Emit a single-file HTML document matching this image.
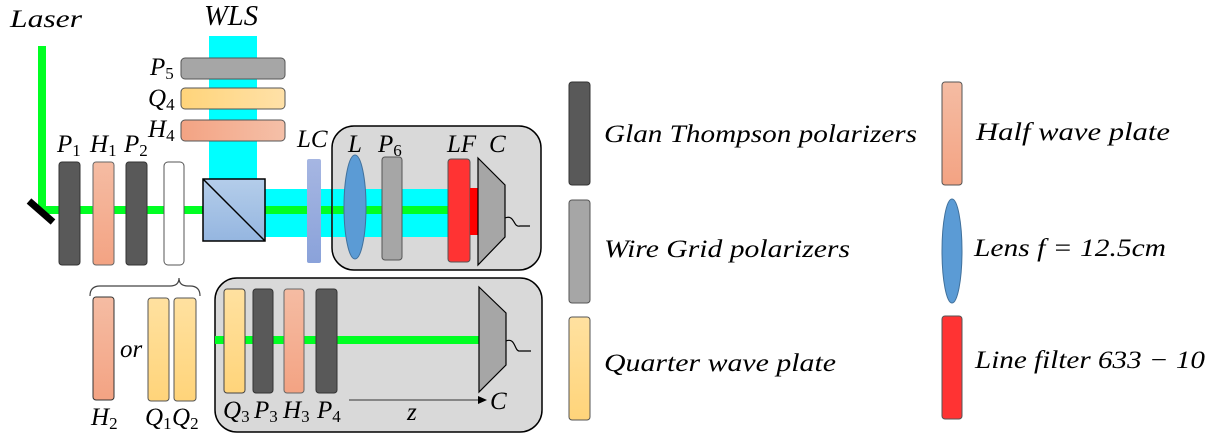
<!DOCTYPE html>
<html><head><meta charset="utf-8"><style>
html,body{margin:0;padding:0;background:#fff;}
svg{display:block;}
text{font-family:"Liberation Serif","DejaVu Serif",serif;font-style:italic;fill:#000;}
.s{font-size:17px;font-style:normal;}
</style></head><body>
<svg width="1219" height="439" viewBox="0 0 1219 439" xmlns="http://www.w3.org/2000/svg" font-family="Liberation Serif, serif">
<defs>
<linearGradient id="sal" x1="0" y1="0" x2="0" y2="1"><stop offset="0" stop-color="#f5bca3"/><stop offset="1" stop-color="#f3a383"/></linearGradient>
<linearGradient id="salh" x1="0" y1="0" x2="1" y2="0"><stop offset="0" stop-color="#f3a383"/><stop offset="1" stop-color="#f5c0a8"/></linearGradient>
<linearGradient id="yel" x1="0" y1="0" x2="0" y2="1"><stop offset="0" stop-color="#ffe1a0"/><stop offset="1" stop-color="#ffd47a"/></linearGradient>
<linearGradient id="yelh" x1="0" y1="0" x2="1" y2="0"><stop offset="0" stop-color="#ffd47a"/><stop offset="1" stop-color="#ffe1a8"/></linearGradient>
<linearGradient id="cube" x1="0" y1="0" x2="0" y2="1"><stop offset="0" stop-color="#b4cdea"/><stop offset="1" stop-color="#95b6e0"/></linearGradient>
<linearGradient id="lc" x1="0" y1="0" x2="0" y2="1"><stop offset="0" stop-color="#a6b6e2"/><stop offset="1" stop-color="#8aa2da"/></linearGradient>
</defs>

<text x="10" y="27" font-size="25" textLength="72" lengthAdjust="spacingAndGlyphs">Laser</text>
<rect x="38" y="46" width="8" height="167" fill="#00ff22"/>
<rect x="40" y="206" width="165" height="8" fill="#00ff22"/>
<line x1="29" y1="201" x2="53" y2="222" stroke="#000" stroke-width="7"/>

<text x="204" y="25" font-size="28" textLength="54" lengthAdjust="spacingAndGlyphs">WLS</text>
<rect x="209" y="36" width="48" height="144" fill="#00ffff"/>
<rect x="181" y="58" width="104" height="21" rx="4" fill="#a6a6a6" stroke="#555" stroke-width="1"/>
<rect x="181" y="88" width="104" height="21" rx="4" fill="url(#yelh)" stroke="#555" stroke-width="1"/>
<rect x="181" y="120" width="104" height="21" rx="4" fill="url(#salh)" stroke="#555" stroke-width="1"/>
<text x="150" y="75" font-size="25">P<tspan class="s" dy="4">5</tspan></text>
<text x="148" y="106" font-size="25">Q<tspan class="s" dy="4">4</tspan></text>
<text x="148" y="137" font-size="25">H<tspan class="s" dy="4">4</tspan></text>

<rect x="59" y="162" width="21" height="103" rx="3" fill="#595959" stroke="#333" stroke-width="1"/>
<rect x="93" y="162" width="21" height="103" rx="3" fill="url(#sal)" stroke="#666" stroke-width="1"/>
<rect x="126" y="162" width="21" height="103" rx="3" fill="#595959" stroke="#333" stroke-width="1"/>
<rect x="164" y="162" width="20" height="103" rx="4" fill="#fff" stroke="#555" stroke-width="1"/>
<text x="57" y="152" font-size="25">P<tspan class="s" dy="4">1</tspan></text>
<text x="90" y="152" font-size="25">H<tspan class="s" dy="4">1</tspan></text>
<text x="124" y="152" font-size="25">P<tspan class="s" dy="4">2</tspan></text>

<rect x="265" y="189" width="183" height="48" fill="#00ffff"/>
<rect x="265" y="206" width="183" height="8" fill="#00ff22"/>
<rect x="203" y="179" width="62" height="62" fill="url(#cube)" stroke="#000" stroke-width="1.5"/>
<line x1="203" y1="179" x2="265" y2="241" stroke="#000" stroke-width="1.5"/>
<rect x="307" y="159" width="14" height="104" rx="2" fill="url(#lc)"/>
<text x="297" y="147" font-size="25">LC</text>

<rect x="332" y="126" width="209" height="144" rx="22" fill="#d9d9d9" stroke="#000" stroke-width="1.5"/>
<rect x="333" y="189" width="115" height="48" fill="#00ffff"/>
<rect x="333" y="206" width="115" height="8" fill="#00ff22"/>
<ellipse cx="355" cy="207" rx="11" ry="52" fill="#5b9bd5" stroke="#41719c" stroke-width="1"/>
<rect x="382" y="157" width="20" height="103" rx="3" fill="#a6a6a6" stroke="#555" stroke-width="1"/>
<rect x="448" y="159" width="22" height="103" rx="3" fill="#ff3333" stroke="#555" stroke-width="1"/>
<rect x="470" y="188" width="9" height="47" fill="#ff0000"/>
<polygon points="478,158 505,185 505,237 478,265" fill="#a6a6a6" stroke="#000" stroke-width="1.2"/>
<path d="M505,218 C515,214 513,228 520,226 L530,226" fill="none" stroke="#000" stroke-width="1.2"/>
<text x="348" y="152" font-size="25">L</text>
<text x="378" y="152" font-size="25">P<tspan class="s" dy="4">6</tspan></text>
<text x="447" y="152" font-size="25">LF</text>
<text x="489" y="152" font-size="25">C</text>

<path d="M90,296 Q90,286 100,286 L170,286 Q179,286 179,278 Q179,286 188,286 L190,286 Q200,286 200,296" fill="none" stroke="#444" stroke-width="1.2"/>
<rect x="93" y="297" width="21" height="103" rx="3" fill="url(#sal)" stroke="#333" stroke-width="1"/>
<text x="120" y="357" font-size="25">or</text>
<rect x="148" y="298" width="21" height="103" rx="3" fill="url(#yel)" stroke="#555" stroke-width="1"/>
<rect x="174" y="298" width="22" height="103" rx="3" fill="url(#yel)" stroke="#555" stroke-width="1"/>
<text x="91" y="425" font-size="25">H<tspan class="s" dy="4">2</tspan></text>
<text x="145" y="425" font-size="25">Q<tspan class="s" dy="4">1</tspan></text>
<text x="172" y="425" font-size="25">Q<tspan class="s" dy="4">2</tspan></text>

<rect x="215" y="278" width="327" height="154" rx="22" fill="#d9d9d9" stroke="#000" stroke-width="1.5"/>
<rect x="215" y="336" width="265" height="8" fill="#00ff22"/>
<rect x="224" y="289" width="21" height="104" rx="3" fill="url(#yel)" stroke="#444" stroke-width="1"/>
<rect x="253" y="289" width="20" height="104" rx="3" fill="#595959" stroke="#333" stroke-width="1"/>
<rect x="284" y="289" width="20" height="104" rx="3" fill="url(#sal)" stroke="#666" stroke-width="1"/>
<rect x="316" y="289" width="21" height="104" rx="3" fill="#595959" stroke="#333" stroke-width="1"/>
<polygon points="479,287 506,313 506,365 479,392" fill="#a6a6a6" stroke="#000" stroke-width="1.2"/>
<path d="M506,341 C516,337 514,352 520,351 L531,351" fill="none" stroke="#000" stroke-width="1.2"/>
<line x1="349" y1="400" x2="480" y2="400" stroke="#333" stroke-width="1"/>
<polygon points="487,400 478,396 478,404" fill="#000"/>
<text x="407" y="420" font-size="25">z</text>
<text x="490" y="409" font-size="25">C</text>
<text x="223" y="418" font-size="25">Q<tspan class="s" dy="4">3</tspan></text>
<text x="254" y="418" font-size="25">P<tspan class="s" dy="4">3</tspan></text>
<text x="283" y="418" font-size="25">H<tspan class="s" dy="4">3</tspan></text>
<text x="317" y="418" font-size="25">P<tspan class="s" dy="4">4</tspan></text>

<rect x="569" y="82" width="21" height="103" rx="3" fill="#595959" stroke="#333" stroke-width="1"/>
<rect x="569" y="200" width="21" height="103" rx="3" fill="#a6a6a6" stroke="#555" stroke-width="1"/>
<rect x="569" y="317" width="21" height="103" rx="3" fill="url(#yel)" stroke="#555" stroke-width="1"/>
<text x="604" y="142" font-size="25" textLength="313" lengthAdjust="spacingAndGlyphs">Glan Thompson polarizers</text>
<text x="604" y="257" font-size="25" textLength="246" lengthAdjust="spacingAndGlyphs">Wire Grid polarizers</text>
<text x="604" y="371" font-size="25" textLength="232" lengthAdjust="spacingAndGlyphs">Quarter wave plate</text>

<rect x="942" y="82" width="20" height="103" rx="3" fill="url(#sal)" stroke="#555" stroke-width="1"/>
<ellipse cx="952" cy="251" rx="10" ry="52" fill="#5b9bd5" stroke="#41719c" stroke-width="1"/>
<rect x="942" y="316" width="20" height="103" rx="3" fill="#ff3333" stroke="#555" stroke-width="1"/>
<text x="976" y="140" font-size="25" textLength="194" lengthAdjust="spacingAndGlyphs">Half  wave plate</text>
<text x="974" y="256" font-size="25" textLength="192" lengthAdjust="spacingAndGlyphs">Lens f = 12.5cm</text>
<text x="975" y="368" font-size="25" textLength="230" lengthAdjust="spacingAndGlyphs">Line filter 633 − 10</text>
</svg>
</body></html>
